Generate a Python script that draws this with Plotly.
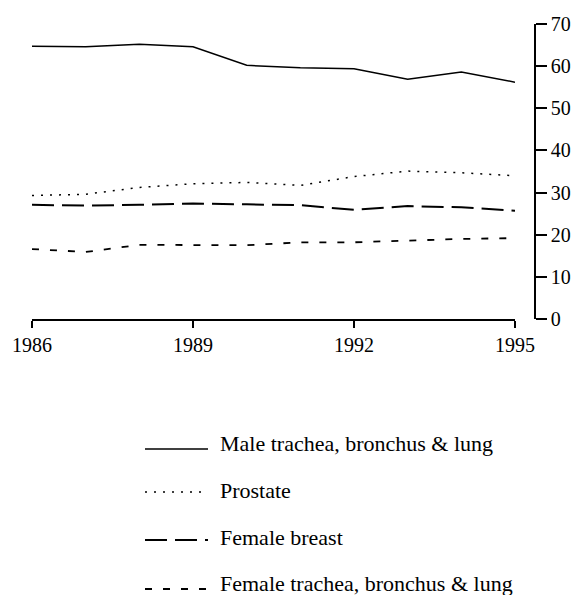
import plotly.graph_objects as go

years = [1986, 1987, 1988, 1989, 1990, 1991, 1992, 1993, 1994, 1995]
male_lung = [64.7, 64.6, 65.2, 64.6, 60.2, 59.6, 59.4, 56.9, 58.6, 56.2]
prostate = [29.3, 29.6, 31.2, 32.1, 32.4, 31.7, 33.8, 35.1, 34.7, 34.0]
female_breast = [27.1, 26.9, 27.1, 27.4, 27.2, 27.0, 25.9, 26.8, 26.5, 25.7]
female_lung = [16.6, 15.9, 17.6, 17.6, 17.5, 18.2, 18.2, 18.6, 19.0, 19.2]

names = ["Male trachea, bronchus & lung", "Prostate", "Female breast",
         "Female trachea, bronchus & lung"]
series = [male_lung, prostate, female_breast, female_lung]
dashes = ["solid", "2px,7px", "22px,8px", "7px,11px"]
widths = [1.5, 1.5, 2, 1.8]

x_ticks = [1986, 1989, 1992, 1995]
y_ticks = [0, 10, 20, 30, 40, 50, 60, 70]

# the page body adds an 8px margin, so shift everything up/left by 8px
OFF = 8
W, H = 579, 595
L, T = 32 - OFF, 24 - OFF
R = W - (535 - OFF)
B = H - (319 - OFF)
pw, ph = W - L - R, H - T - B

fig = go.Figure()
for name, vals, dash, w in zip(names, series, dashes, widths):
    fig.add_trace(go.Scatter(x=years, y=vals, mode="lines", name=name,
                             line=dict(color="black", width=w, dash=dash),
                             showlegend=False))

# hand-drawn legend below the plot (positions given in window pixels)
def px_x(v):
    return (v - OFF - L) / pw

def px_y(v):
    return (H - B - (v - OFF)) / ph

text_y = [443, 490, 537, 583]
line_y = [449, 492, 540, 589]
for name, dash, w, ty, ly in zip(names, dashes, widths, text_y, line_y):
    fig.add_shape(type="line", xref="paper", yref="paper",
                  x0=px_x(145), x1=px_x(208), y0=px_y(ly), y1=px_y(ly),
                  line=dict(color="black", width=w, dash=dash))
    fig.add_annotation(text=name, xref="paper", yref="paper",
                       x=px_x(218), y=px_y(ty), xanchor="left", yanchor="middle",
                       showarrow=False, font=dict(size=22, color="black"))

fig.update_layout(
    width=W, height=H,
    margin=dict(l=L, r=R, t=T, b=B, autoexpand=False),
    plot_bgcolor="white", paper_bgcolor="white",
    font=dict(family="Liberation Serif", size=20, color="black"),
    xaxis=dict(domain=[0, (515 - 32) / pw], range=[1986, 1995],
               tickvals=x_ticks, showline=True, linecolor="black", linewidth=1.5,
               ticks="outside", ticklen=7, tickwidth=1.5, tickcolor="black",
               showgrid=False, zeroline=False),
    yaxis=dict(range=[0, 70], tickvals=y_ticks, side="right", anchor="free",
               position=1, showline=True, linecolor="black", linewidth=1.5,
               ticks="outside", ticklen=11, tickwidth=1.5, tickcolor="black",
               showgrid=False, zeroline=False),
)

fig.write_html("out.html")
